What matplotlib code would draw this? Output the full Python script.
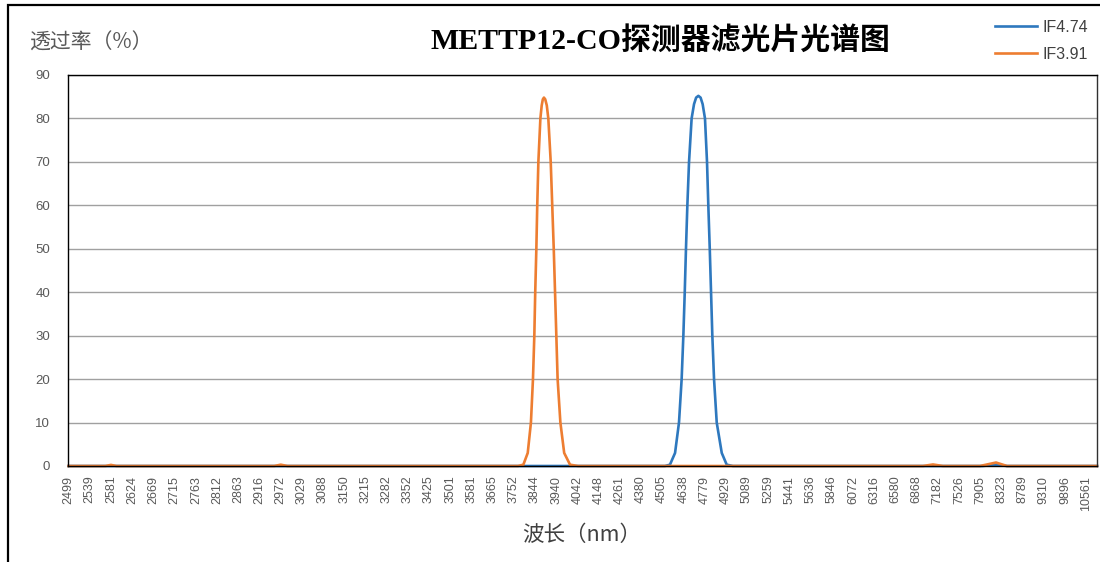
import numpy as np
import matplotlib
matplotlib.use("Agg")
import matplotlib.pyplot as plt
from matplotlib.patches import Rectangle

plt.rcParams['font.family'] = ['Liberation Sans', 'Noto Sans CJK SC', 'DejaVu Sans']

# Category labels on the x axis (nm), as printed on the chart
wl_labels = [2499, 2539, 2581, 2624, 2669, 2715, 2763, 2812, 2863, 2916, 2972,
             3029, 3088, 3150, 3215, 3282, 3352, 3425, 3501, 3581, 3665, 3752,
             3844, 3940, 4042, 4148, 4261, 4380, 4505, 4638, 4779, 4929, 5089,
             5259, 5441, 5636, 5846, 6072, 6316, 6580, 6868, 7182, 7526, 7905,
             8323, 8789, 9310, 9896, 10561]
y_ticks = [0, 10, 20, 30, 40, 50, 60, 70, 80, 90]

# IF4.74 curve: wavelength (nm) and transmission (%)
if474_nm = [2499, 4522, 4553, 4585, 4610, 4627, 4638, 4647, 4655, 4664, 4675,
            4692, 4708, 4722, 4737, 4752, 4766, 4782, 4796, 4805, 4815, 4824,
            4833, 4845, 4864, 4900, 4936, 4982, 7950, 8214, 8440, 10937]
if474_val = [0, 0, 0.3, 3, 10, 20, 30, 40, 50, 60, 70,
             80, 83.3, 84.8, 85.2, 84.8, 83.3, 80, 70, 60, 50, 40,
             30, 20, 10, 3, 0.3, 0, 0, 0.3, 0, 0]

# IF3.91 curve
if391_nm = [2499, 2570, 2581, 2592, 2955, 2972, 2990, 3770, 3793, 3812, 3826,
            3835, 3841, 3845, 3850, 3854, 3859, 3868, 3874, 3879, 3884, 3890,
            3897, 3904, 3915, 3922, 3929, 3935, 3941, 3947, 3960, 3978, 4006,
            4045, 6960, 7109, 7264, 7901, 8214, 8442, 10937]
if391_val = [0, 0, 0.25, 0, 0, 0.3, 0, 0, 0.3, 3, 10,
             20, 30, 40, 50, 60, 70, 80, 83, 84.4, 84.8, 84.4,
             83, 80, 70, 60, 50, 40, 30, 20, 10, 3, 0.3,
             0, 0, 0.35, 0, 0, 0.8, 0, 0]

blue = '#2E78BE'
orange = '#ED7D31'
gray = '#595959'

fig = plt.figure(figsize=(11, 5.62), dpi=100)
ax = fig.add_axes([68 / 1100, 1 - 466 / 562, 1029 / 1100, 391 / 562])

# wavenumber axis (cm^-1), the spectrum is evenly spaced in it
ax.plot(1e7 / np.array(if474_nm), if474_val, color=blue, lw=1.9, label='IF4.74',
        clip_on=False, solid_joinstyle='round')
ax.plot(1e7 / np.array(if391_nm), if391_val, color=orange, lw=1.9, label='IF3.91',
        clip_on=False, solid_joinstyle='round')

ax.set_xlim(1e7 / 2499 + 1.8, 1e7 / 10937)
ax.set_ylim(0, 90)
ax.set_xticks(1e7 / np.array(wl_labels))
ax.set_xticklabels([str(v) for v in wl_labels], rotation=90, fontsize=9, color=gray)
ax.set_yticks(y_ticks)
ax.set_yticklabels([str(v) for v in y_ticks], fontsize=9.5, color=gray)
ax.tick_params(axis='x', length=0, pad=7)
ax.tick_params(axis='y', length=0, pad=13)
ax.yaxis.grid(True, color='#A0A0A0', lw=1)
ax.set_axisbelow(True)
for s in ['top', 'left', 'bottom']:
    ax.spines[s].set_color('black')
    ax.spines[s].set_linewidth(1)
ax.spines['right'].set_color('#303030')
ax.spines['right'].set_linewidth(1)

# titles and labels
fig.text(660 / 1100, 1 - 40 / 562, 'METTP12-CO探测器滤光片光谱图', ha='center', va='center',
         fontsize=21.5, fontweight='bold', family=['Liberation Serif', 'Noto Sans CJK SC'])
fig.text(29 / 1100, 1 - 43 / 562, '透过率（%）', ha='left', va='center', fontsize=15,
         color=gray, family=['Noto Sans CJK SC', 'DejaVu Sans'])
fig.text(582 / 1100, 1 - 535 / 562, '波长（nm）', ha='center', va='center', fontsize=15.5,
         color='#404040', family=['Noto Sans CJK SC', 'DejaVu Sans'])

fig.legend(loc='upper right', bbox_to_anchor=(1088 / 1100, 1 - 20 / 562), frameon=False,
           fontsize=11.5, handlelength=2.6, handletextpad=0.35, labelspacing=0.75,
           labelcolor='#404040', borderaxespad=0, borderpad=0)

# screenshot frame
fig.add_artist(Rectangle((8 / 1100, -0.05), 1.0, 1.05 - 5 / 562, transform=fig.transFigure,
                         fill=False, ec='black', lw=1.6))

fig.savefig('out.png', dpi=100)
